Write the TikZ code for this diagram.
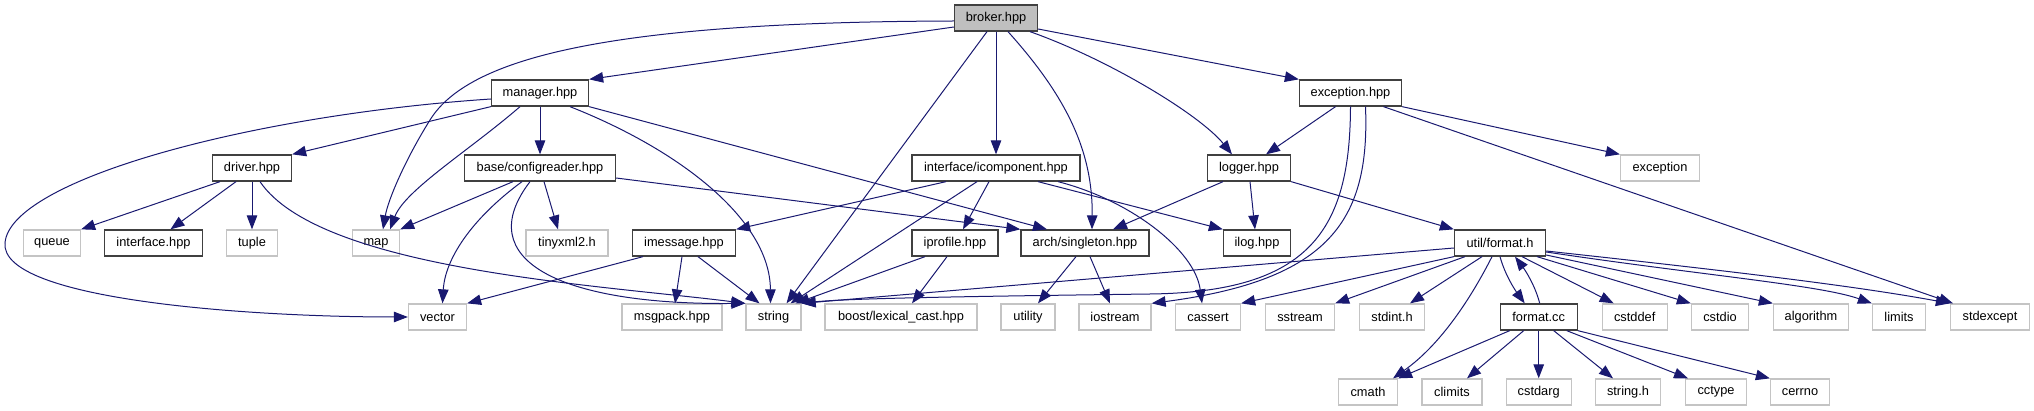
\documentclass[tikz,border=0pt]{standalone}
\usepackage{fontspec}
\setmainfont{Liberation Sans}
\usepackage{tikz}
\usetikzlibrary{arrows.meta}
\definecolor{edgeblue}{RGB}{25, 25, 112}
\definecolor{mainfill}{RGB}{191, 191, 191}
\definecolor{sysgray}{RGB}{196, 196, 196}
\definecolor{fileborder}{RGB}{64, 64, 64}

\begin{document}
\begin{tikzpicture}[x=1pt, y=-1pt,
    file/.style={rectangle, draw=fileborder, line width=1.3pt, fill=white, minimum height=26pt, inner sep=0pt, font=\fontsize{12.8}{14}\selectfont},
    mainfile/.style={file, fill=mainfill},
    sysfile/.style={file, draw=sysgray},
    dep/.style={-{Triangle[length=14pt, width=10.5pt]}, line width=1pt, edgeblue}]

\useasboundingbox (0,0) rectangle (2034,411);

% rank 1 and 2
\node[mainfile, minimum width=83] (broker) at (996, 18) {broker.hpp};
\node[file, minimum width=97] (manager) at (540, 93) {manager.hpp};
\node[file, minimum width=102] (excepthpp) at (1350.5, 93) {exception.hpp};

% rank 3
\node[file, minimum width=79] (driver) at (252, 168) {driver.hpp};
\node[file, minimum width=151] (configreader) at (540, 168) {base/configreader.hpp};
\node[file, minimum width=168] (icomponent) at (996, 168) {interface/icomponent.hpp};
\node[file, minimum width=83] (logger) at (1249, 168) {logger.hpp};
\node[sysfile, minimum width=79] (exceptsys) at (1660, 168) {exception};

% rank 4
\node[sysfile, minimum width=57] (queue) at (52, 243) {queue};
\node[file, minimum width=98] (interfacehpp) at (153.5, 243) {interface.hpp};
\node[sysfile, minimum width=51] (tuple) at (252, 243) {tuple};
\node[sysfile, minimum width=47] (map) at (376, 243) {map};
\node[sysfile, minimum width=82] (tinyxml) at (567, 243) {tinyxml2.h};
\node[file, minimum width=103] (imessage) at (684, 243) {imessage.hpp};
\node[file, minimum width=86] (iprofile) at (955, 243) {iprofile.hpp};
\node[file, minimum width=128] (singleton) at (1085, 243) {arch/singleton.hpp};
\node[file, minimum width=67] (ilog) at (1257, 243) {ilog.hpp};
\node[file, minimum width=91] (formath) at (1500, 243) {util/format.h};

% rank 5
\node[sysfile, minimum width=58] (vector) at (437.5, 317) {vector};
\node[sysfile, minimum width=100] (msgpack) at (672, 317) {msgpack.hpp};
\node[sysfile, minimum width=55] (string) at (773.5, 317) {string};
\node[sysfile, minimum width=152] (boost) at (901, 317) {boost/lexical\_cast.hpp};
\node[sysfile, minimum width=54] (utility) at (1028, 317) {utility};
\node[sysfile, minimum width=72] (iostream) at (1115, 317) {iostream};
\node[sysfile, minimum width=65] (cassert) at (1208, 317) {cassert};
\node[sysfile, minimum width=69] (sstream) at (1300, 317) {sstream};
\node[sysfile, minimum width=65] (stdint) at (1392, 317) {stdint.h};
\node[file, minimum width=77] (formatcc) at (1538.7, 317) {format.cc};
\node[sysfile, minimum width=65] (cstddef) at (1634.7, 317) {cstddef};
\node[sysfile, minimum width=57] (cstdio) at (1720, 317) {cstdio};
\node[sysfile, minimum width=75] (algorithm) at (1811, 317) {algorithm};
\node[sysfile, minimum width=53] (limits) at (1899, 317) {limits};
\node[sysfile, minimum width=79] (stdexcept) at (1990, 317) {stdexcept};

% rank 6
\node[sysfile, minimum width=59] (cmath) at (1368, 392) {cmath};
\node[sysfile, minimum width=60] (climits) at (1452, 392) {climits};
\node[sysfile, minimum width=65] (cstdarg) at (1538.7, 392) {cstdarg};
\node[sysfile, minimum width=65] (stringh) at (1628, 392) {string.h};
\node[sysfile, minimum width=61] (cctype) at (1716, 392) {cctype};
\node[sysfile, minimum width=59] (cerrno) at (1800, 392) {cerrno};

% broker.hpp
\draw[dep] ([yshift=-3]broker.west) .. controls (620,22) and (470,55) .. (430,120) .. controls (405,160) and (388,200) .. ([xshift=7]map.north);
\draw[dep] ([yshift=-9]broker.west) -- (manager.north east);
\draw[dep] ([xshift=-9]broker.south) -- ([xshift=13]string.north);
\draw[dep] (broker) -- (icomponent);
\draw[dep] ([xshift=12]broker.south) .. controls (1065,95) and (1093,150) .. ([xshift=7]singleton.north);
\draw[dep] ([xshift=34]broker.south) .. controls (1110,60) and (1200,115) .. ([xshift=-17]logger.north);
\draw[dep] ([yshift=-11]broker.east) -- (excepthpp.north west);

% manager.hpp
\draw[dep] ([yshift=-6]manager.west) .. controls (250,115) and (10,180) .. (5,243) .. controls (0,300) and (250,317) .. (vector.west);
\draw[dep] (manager.south west) -- (driver.north east);
\draw[dep] ([xshift=-20]manager.south) .. controls (470,150) and (405,190) .. ([xshift=14]map.north);
\draw[dep] (manager) -- (configreader);
\draw[dep] ([xshift=30]manager.south) .. controls (680,150) and (770,220) .. ([xshift=-3]string.north);
\draw[dep] (manager.south east) -- ([xshift=-38]singleton.north);

% driver.hpp
\draw[dep] ([xshift=-32]driver.south) -- (queue.north east);
\draw[dep] ([xshift=-16]driver.south) -- ([xshift=17]interfacehpp.north);
\draw[dep] (driver) -- (tuple);
\draw[dep] ([xshift=8]driver.south) .. controls (320,270) and (600,285) .. (string.north west);

% base/configreader.hpp
\draw[dep] ([xshift=-27]configreader.south) -- (map.north east);
\draw[dep] ([xshift=-18]configreader.south) .. controls (470,220) and (445,260) .. ([xshift=5]vector.north);
\draw[dep] ([xshift=-10]configreader.south) .. controls (470,260) and (560,305) .. (string.north west);
\draw[dep] ([xshift=4]configreader.south) -- ([xshift=-9]tinyxml.north);
\draw[dep] ([yshift=-10]configreader.east) -- (singleton.north west);

% interface/icomponent.hpp
\draw[dep] ([xshift=-50]icomponent.south) -- (imessage.north east);
\draw[dep] ([xshift=-19]icomponent.south) -- ([xshift=17]string.north);
\draw[dep] ([xshift=-7]icomponent.south) -- ([xshift=8]iprofile.north);
\draw[dep] ([xshift=42]icomponent.south) -- (ilog.north west);
\draw[dep] ([xshift=62]icomponent.south) .. controls (1130,200) and (1195,250) .. ([xshift=-6]cassert.north);

% logger.hpp
\draw[dep] ([xshift=-26]logger.south) -- ([xshift=28]singleton.north);
\draw[dep] ([xshift=1]logger.south) -- ([xshift=-2]ilog.north);
\draw[dep] (logger.south east) -- (formath.north west);

% exception.hpp
\draw[dep] ([xshift=-15]excepthpp.south) -- ([xshift=17]logger.north);
\draw[dep] (excepthpp.south) .. controls (1350,230) and (1310,292) .. (1150,294) .. controls (1000,296) and (850,298) .. (string.north east);
\draw[dep] ([xshift=15]excepthpp.south) .. controls (1370,220) and (1330,280) .. (iostream.north east);
\draw[dep] ([xshift=33]excepthpp.south) -- ([xshift=-37]stdexcept.north);
\draw[dep] (excepthpp.south east) -- (exceptsys.north west);

% util/format.h
\draw[dep] ([yshift=-5]formath.west) -- (string.north east);
\draw[dep] (formath.south west) -- (cassert.north east);
\draw[dep] ([xshift=-35]formath.south) -- (sstream.north east);
\draw[dep] ([xshift=-18]formath.south) -- ([xshift=18]stdint.north);
\draw[dep] ([xshift=-8]formath.south) .. controls (1470,300) and (1440,345) .. ([xshift=25]cmath.north);
\draw[dep] (formath.south) .. controls (1505,275) and (1515,290) .. ([xshift=-14]formatcc.north);
\draw[dep] ([xshift=22]formath.south) -- ([xshift=-21]cstddef.north);
\draw[dep] ([xshift=37]formath.south) -- (cstdio.north west);
\draw[dep] ([yshift=-12]formath.east) -- (algorithm.north west);
\draw[dep] ([yshift=-9]formath.east) .. controls (1700,275) and (1820,285) .. (limits.north west);
\draw[dep] ([yshift=-8]formath.east) .. controls (1720,270) and (1850,285) .. (stdexcept.north west);

% format.cc
\draw[dep] ([xshift=1]formatcc.north) .. controls (1535,285) and (1525,270) .. ([xshift=15]formath.south);
\draw[dep] ([xshift=-29]formatcc.south) -- (cmath.north east);
\draw[dep] ([xshift=-15]formatcc.south) -- ([xshift=15]climits.north);
\draw[dep] (formatcc) -- (cstdarg);
\draw[dep] ([xshift=15]formatcc.south) -- ([xshift=-15]stringh.north);
\draw[dep] ([xshift=28]formatcc.south) -- ([xshift=-28]cctype.north);
\draw[dep] (formatcc.south east) -- (cerrno.north west);

% imessage.hpp, iprofile.hpp, arch/singleton.hpp
\draw[dep] ([xshift=-41]imessage.south) -- (vector.north east);
\draw[dep] ([xshift=-2]imessage.south) -- ([xshift=3]msgpack.north);
\draw[dep] ([xshift=14]imessage.south) -- ([xshift=-14]string.north);
\draw[dep] ([xshift=-30]iprofile.south) -- ([xshift=22]string.north);
\draw[dep] ([xshift=-8]iprofile.south) -- ([xshift=11]boost.north);
\draw[dep] ([xshift=-9]singleton.south) -- ([xshift=10]utility.north);
\draw[dep] ([xshift=5]singleton.south) -- ([xshift=-5]iostream.north);

\end{tikzpicture}
\end{document}
